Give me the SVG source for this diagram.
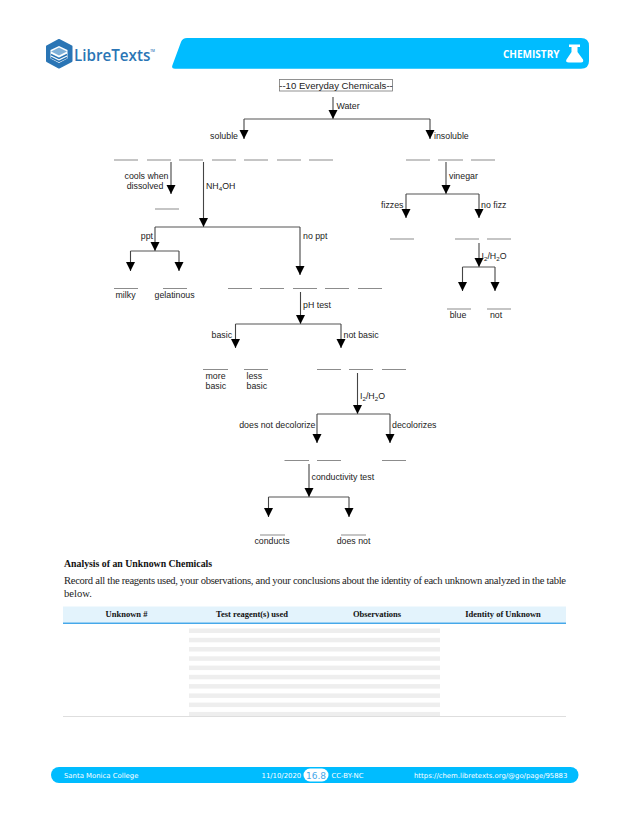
<svg xmlns="http://www.w3.org/2000/svg" width="630" height="813" viewBox="0 0 630 813">
<style>
.t{font-family:"Liberation Sans",Arial,sans-serif;font-size:8.8px;fill:#222}
.m{text-anchor:middle}
.e{text-anchor:end}
.s{font-size:6.2px}
.c{fill:none;stroke:#555;stroke-width:1.1}
.a{fill:none;stroke:#444;stroke-width:1.1;marker-end:url(#ah)}
.d{stroke:#8c8c8c;stroke-width:1.1}
.h{font-family:"Liberation Serif","Times New Roman",serif;font-weight:bold;font-size:8.5px;fill:#111;text-anchor:middle}
.b{font-family:"Liberation Serif","Times New Roman",serif;font-size:10.6px;fill:#222}
.f{font-family:"DejaVu Sans",sans-serif;font-size:6.9px;fill:#fff}
.st{fill:#eeeeee}
</style>
<defs>
<marker id="ah" markerUnits="userSpaceOnUse" markerWidth="12" markerHeight="10" refX="9" refY="5" orient="auto">
<path d="M0 0.5L9 5L0 9.500z" fill="#000"/>
</marker>
</defs>
<rect width="630" height="813" fill="#fff"/>
<g id="logo">
<path d="M59 40L71.500 46.500V61L59 67.500L47 61V46.500z" fill="#2a75b5" stroke="#2a75b5" stroke-width="2" stroke-linejoin="round"/>
<path d="M59 46L67.500 50V58.500L59 63L50.500 58.500V50z" fill="#fff"/>
<path d="M59 47.500L67 51.500L59 55.500L51 51.500z" fill="#7fb0d8"/>
<path d="M51 54.500L59 58.500L67 54.500M51 57.500L59 61.500L67 57.500" fill="none" stroke="#2a75b5" stroke-width="1.500"/>
<text x="74" y="60.500" font-family="'Open Sans',sans-serif" font-size="17" font-weight="600" fill="#2a75b5" textLength="81" lengthAdjust="spacingAndGlyphs">LibreTexts<tspan font-size="3.500" dy="-9">TM</tspan></text>
</g>
<g id="header">
<path d="M187 38H581Q589 38 589 46V61Q589 68.700 581 68.700H175Q171 68.700 172.500 65L181 42Q182.500 38 187 38z" fill="#00bcff"/>
<text x="503" y="58" font-family="'Open Sans',sans-serif" font-size="10" font-weight="700" fill="#fff">CHEMISTRY</text>
<path d="M569 44.500H580V47H577.500V52L583 59.500Q584 62.500 581 62.500H569Q565 62.500 566.500 59.500L571.500 52V47H569z" fill="#fff"/>
</g>
<g id="title">
<rect x="279.500" y="79.500" width="113" height="11.500" fill="#fff" stroke="#777" stroke-width="0.800"/>
<text x="336" y="89" text-anchor="middle" font-family="'Liberation Sans',Arial,sans-serif" font-size="9.600" fill="#222">--10 Everyday Chemicals--</text>
</g>
<g id="connectors">
<path class="a" d="M333 97V119"/>
<path class="c" d="M244 119H430"/>
<path class="a" d="M244 119V139"/>
<path class="a" d="M430 119V139"/>
<path class="a" d="M171 162V194"/>
<path class="a" d="M203.500 162V227"/>
<path class="c" d="M155 227H300"/>
<path class="a" d="M155 227V251"/>
<path class="a" d="M300 227V275"/>
<path class="c" d="M130.500 251H179"/>
<path class="a" d="M130.500 251V271"/>
<path class="a" d="M179 251V271"/>
<path class="a" d="M300.500 292V324"/>
<path class="c" d="M235.500 324H341"/>
<path class="a" d="M235.500 324V348"/>
<path class="a" d="M341 324V348"/>
<path class="a" d="M357.500 373V414"/>
<path class="c" d="M317 414H390"/>
<path class="a" d="M317 414V443"/>
<path class="a" d="M390 414V443"/>
<path class="a" d="M309 464V497"/>
<path class="c" d="M268.500 497H349"/>
<path class="a" d="M268.500 497V517"/>
<path class="a" d="M349 497V517"/>
<path class="a" d="M446 162V194"/>
<path class="c" d="M406 194H479"/>
<path class="a" d="M406 194V218"/>
<path class="a" d="M479 194V218"/>
<path class="a" d="M479 243V267"/>
<path class="c" d="M462.500 267H495"/>
<path class="a" d="M462.500 267V291"/>
<path class="a" d="M495 267V291"/>
</g>
<g id="blanks" class="d">
<path d="M114 160h24M147 160h24M179 160h24M212 160h24M244 160h24M277 160h24M309 160h24M406 160h24M438 160h25M471 160h24"/>
<path d="M155 209h24M390 239h24M455 239h24M487 239h24"/>
<path d="M114 288.500h24M163 288.500h24M228 288.500h24M260 288.500h24M293 288.500h24M325 288.500h24M358 288.500h24"/>
<path d="M447 309h24M487 309h24"/>
<path d="M203 369.500h25M244 369.500h24M317 369.500h24M349 369.500h24M382 369.500h24"/>
<path d="M284.500 460.500h24.500M317 460.500h24M382 460.500h24"/>
<path d="M260 535h25M341 535h25"/>
</g>
<g id="labels">
<text class="t" x="336.500" y="109">Water</text>
<text class="t e" x="238" y="139">soluble</text>
<text class="t" x="434" y="139">insoluble</text>
<text class="t m" x="146.500" y="179">cools when</text>
<text class="t m" x="145" y="189">dissolved</text>
<text class="t" x="206" y="189">NH<tspan class="s" dy="2">4</tspan><tspan dy="-2">OH</tspan></text>
<text class="t e" x="153" y="239">ppt</text>
<text class="t" x="303" y="239">no ppt</text>
<text class="t" x="115.500" y="298">milky</text>
<text class="t" x="154.500" y="298">gelatinous</text>
<text class="t" x="303" y="308">pH test</text>
<text class="t" x="211.500" y="338">basic</text>
<text class="t" x="343.500" y="338">not basic</text>
<text class="t" x="205.500" y="379">more</text>
<text class="t" x="205.500" y="389">basic</text>
<text class="t" x="246.500" y="379">less</text>
<text class="t" x="246.500" y="389">basic</text>
<text class="t" x="360" y="399">I<tspan class="s" dy="2">2</tspan><tspan dy="-2">/H</tspan><tspan class="s" dy="2">2</tspan><tspan dy="-2">O</tspan></text>
<text class="t e" x="315.500" y="428">does not decolorize</text>
<text class="t" x="392" y="428">decolorizes</text>
<text class="t" x="311.500" y="480">conductivity test</text>
<text class="t m" x="272" y="544">conducts</text>
<text class="t m" x="353.500" y="544">does not</text>
<text class="t" x="449" y="179">vinegar</text>
<text class="t e" x="403.500" y="208">fizzes</text>
<text class="t" x="481" y="208">no fizz</text>
<text class="t" x="481.500" y="258.500">I<tspan class="s" dy="2">2</tspan><tspan dy="-2">/H</tspan><tspan class="s" dy="2">2</tspan><tspan dy="-2">O</tspan></text>
<text class="t m" x="458" y="318">blue</text>
<text class="t m" x="496" y="318">not</text>
</g>
<g id="analysis">
<text class="b" x="64" y="566.500" style="font-weight:bold;font-size:9.800px;fill:#111">Analysis of an Unknown Chemicals</text>
<text class="b" x="64" y="584" textLength="502" lengthAdjust="spacing">Record all the reagents used, your observations, and your conclusions about the identity of each unknown analyzed in the table</text>
<text class="b" x="64" y="597">below.</text>
</g>
<g id="table">
<rect x="63" y="606.500" width="503" height="16" fill="#e3f3fc"/>
<rect x="63" y="622.500" width="503" height="1.500" fill="#45a8ea"/>
<text class="h" x="126.500" y="617">Unknown #</text>
<text class="h" x="252" y="617">Test reagent(s) used</text>
<text class="h" x="377" y="617">Observations</text>
<text class="h" x="503" y="617">Identity of Unknown</text>
<g class="st">
<rect x="189" y="628.500" width="251" height="4.500"/>
<rect x="189" y="637.800" width="251" height="4.500"/>
<rect x="189" y="647" width="251" height="4.500"/>
<rect x="189" y="656.300" width="251" height="4.500"/>
<rect x="189" y="665.600" width="251" height="4.500"/>
<rect x="189" y="674.800" width="251" height="4.500"/>
<rect x="189" y="684.100" width="251" height="4.500"/>
<rect x="189" y="693.400" width="251" height="4.500"/>
<rect x="189" y="702.600" width="251" height="4.500"/>
<rect x="189" y="711.900" width="251" height="4.500"/>
</g>
<rect x="63" y="716" width="503" height="1" fill="#dedede"/>
</g>
<g id="footer">
<rect x="51" y="767" width="527.500" height="16" rx="8" fill="#00bcff"/>
<text class="f" x="64" y="777.500">Santa Monica College</text>
<text class="f" x="261.500" y="777.500">11/10/2020</text>
<rect x="303.500" y="768.500" width="25" height="13" rx="6.500" fill="#fff"/>
<text x="316" y="778.500" text-anchor="middle" font-family="'DejaVu Sans',sans-serif" font-size="9" fill="#45a8ea">16.8</text>
<text class="f" x="331.500" y="777.500">CC-BY-NC</text>
<text class="f" x="414" y="777.500">https://chem.libretexts.org/@go/page/95883</text>
</g>
</svg>
